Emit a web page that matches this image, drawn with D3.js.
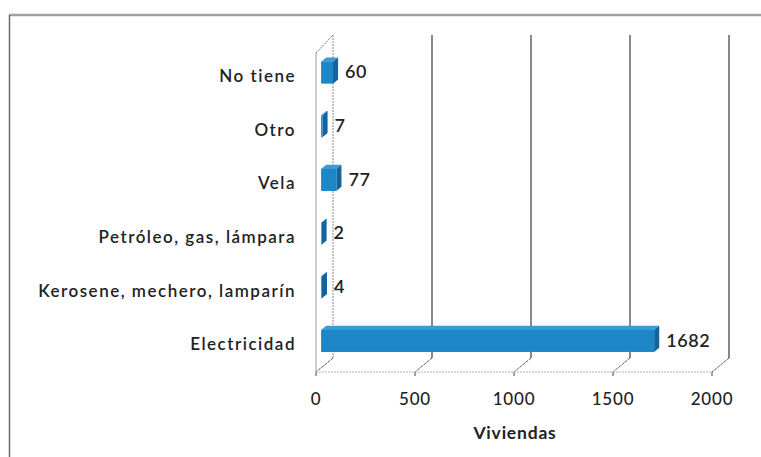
<!DOCTYPE html>
<html>
<head>
<meta charset="utf-8">
<script src="https://cdn.jsdelivr.net/npm/d3@7/dist/d3.min.js"></script>
<style>
  html, body { margin: 0; padding: 0; background: #fff; }
  svg { display: block; }
  text { font-family: Lato, "Open Sans", sans-serif; fill: #222; }
</style>
</head>
<body>
<svg id="chart" width="761" height="457"></svg>
<script>
// Fuente de alumbrado de las viviendas
const categories = ["No tiene", "Otro", "Vela", "Petróleo, gas, lámpara", "Kerosene, mechero, lamparín", "Electricidad"];
const viviendas = [60, 7, 77, 2, 4, 1682];
const xTicks = [0, 500, 1000, 1500, 2000];
const xTitle = "Viviendas";

const svg = d3.select("#chart");

// front plane of the 3D plot box
const front = { left: 316, top: 50, bottom: 372 };
const depth = { dx: 17, dy: -14 };          // offset of the back wall
const barDepth = { f0: 0.30, f1: 0.60 };    // bar sits inside the depth
const barH = 22;

const x = d3.scaleLinear().domain([0, 2000]).range([front.left, front.left + 396]);
const y = d3.scaleBand().domain(categories).range([front.top, front.bottom]);

// outer frame
svg.append("line").attr("x1", 9).attr("x2", 761).attr("y1", 15).attr("y2", 15)
  .attr("stroke", "#a0a0a0").attr("stroke-width", 2.5);
svg.append("line").attr("x1", 9.5).attr("x2", 9.5).attr("y1", 15).attr("y2", 457)
  .attr("stroke", "#6a6a6a").attr("stroke-width", 1.5);

const g = svg.append("g");

// back-wall gridlines with their floor diagonals
const backTop = front.top + depth.dy - 1;
const backBottom = front.bottom + depth.dy;
xTicks.forEach((t, i) => {
  const xf = x(t), xb = x(t) + depth.dx;
  g.append("line").attr("x1", xb).attr("x2", xb).attr("y1", backTop).attr("y2", backBottom)
    .attr("stroke", i === 0 ? "#8a8a8a" : "#3a3a3a").attr("stroke-width", i === 0 ? 1 : 1.2)
    .attr("stroke-dasharray", i === 0 ? "2,1" : null);
  g.append("line").attr("x1", xb).attr("x2", xf).attr("y1", backBottom).attr("y2", front.bottom)
    .attr("stroke", "#555").attr("stroke-width", 1).attr("stroke-dasharray", "3,1");
  g.append("line").attr("x1", xf).attr("x2", xf).attr("y1", front.bottom).attr("y2", front.bottom + 4)
    .attr("stroke", "#444").attr("stroke-width", 1);
});

// left side wall: front edge and top diagonal
g.append("line").attr("x1", front.left).attr("x2", front.left)
  .attr("y1", front.top + 3).attr("y2", front.bottom)
  .attr("stroke", "#9a9a9a").attr("stroke-width", 1);
g.append("line").attr("x1", front.left).attr("x2", front.left + depth.dx)
  .attr("y1", front.top + 3).attr("y2", backTop)
  .attr("stroke", "#777").attr("stroke-width", 1).attr("stroke-dasharray", "2,1");

// floor front edge
g.append("line").attr("x1", front.left).attr("x2", x(2000))
  .attr("y1", front.bottom).attr("y2", front.bottom)
  .attr("stroke", "#b5b5b5").attr("stroke-width", 1.2).attr("stroke-dasharray", "2,1");

// 3D bars
const bars = g.selectAll("g.bar").data(categories.map((c, i) => ({ c, v: viviendas[i] })))
  .join("g").attr("class", "bar");

bars.each(function(d) {
  const sel = d3.select(this);
  const cy = y(d.c) + y.bandwidth() / 2;
  const ox0 = depth.dx * barDepth.f0, oy0 = depth.dy * barDepth.f0;
  const ox1 = depth.dx * barDepth.f1, oy1 = depth.dy * barDepth.f1;
  const x0 = x(0) + ox0, x1 = x(d.v) + ox0;
  const yT = cy + oy0 - barH / 2, yB = cy + oy0 + barH / 2;
  const ddx = ox1 - ox0, ddy = oy1 - oy0;
  // top face
  sel.append("path")
    .attr("d", `M${x0},${yT}L${x0 + ddx},${yT + ddy}L${x1 + ddx},${yT + ddy}L${x1},${yT}Z`)
    .attr("fill", "#3a9bd6");
  // right face
  sel.append("path")
    .attr("d", `M${x1},${yT}L${x1 + ddx},${yT + ddy}L${x1 + ddx},${yB + ddy}L${x1},${yB}Z`)
    .attr("fill", "#12649e");
  // front face
  sel.append("rect").attr("x", x0).attr("y", yT).attr("width", x1 - x0).attr("height", barH)
    .attr("fill", "#1c86c6");
  // value label
  sel.append("text")
    .attr("x", x1 + ddx + 7).attr("y", cy + oy0 + 1)
    .attr("dominant-baseline", "middle")
    .attr("font-size", 18).attr("font-weight", 600).attr("letter-spacing", 0.6)
    .text(d.v);
});

// category labels
g.selectAll("text.cat").data(categories).join("text").attr("class", "cat")
  .attr("x", 296).attr("y", d => y(d) + y.bandwidth() / 2 + 1)
  .attr("text-anchor", "end").attr("dominant-baseline", "middle")
  .attr("font-size", 17).attr("font-weight", 600)
  .attr("letter-spacing", 1.5)
  .text(d => d);

// value axis tick labels
g.selectAll("text.tick").data(xTicks).join("text").attr("class", "tick")
  .attr("x", d => x(d)).attr("y", 405)
  .attr("text-anchor", "middle").attr("font-size", 17).attr("font-weight", 500)
  .attr("letter-spacing", 0.8)
  .text(d => d);

// axis title
g.append("text").attr("x", 515).attr("y", 439).attr("text-anchor", "middle")
  .attr("font-size", 17.5).attr("font-weight", 700).attr("letter-spacing", 0.8)
  .text(xTitle);
</script>
</body>
</html>
